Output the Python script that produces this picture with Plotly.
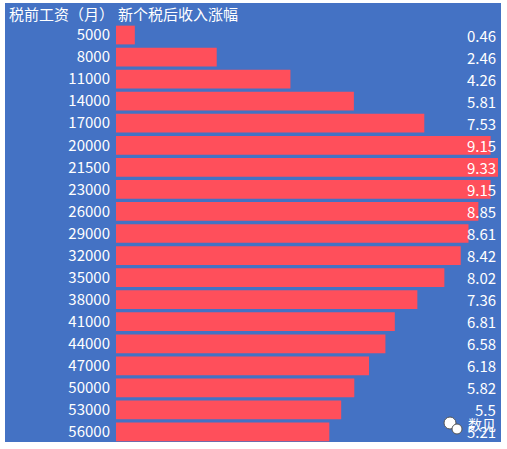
import plotly.graph_objects as go

# data
salaries = ["5000", "8000", "11000", "14000", "17000", "20000", "21500", "23000", "26000",
            "29000", "32000", "35000", "38000", "41000", "44000", "47000", "50000", "53000", "56000"]
increase = [0.46, 2.46, 4.26, 5.81, 7.53, 9.15, 9.33, 9.15, 8.85,
            8.61, 8.42, 8.02, 7.36, 6.81, 6.58, 6.18, 5.82, 5.5, 5.21]
header_left = "税前工资（月）"
header_right = "新个税后收入涨幅"
watermark = "数见"

blue = "#4472C4"
red = "#FF4F5B"
font_family = "Noto Sans CJK SC"

W, H = 507, 449
m_l, m_r, m_t, m_b = 116, 9, 24, 6
plot_w = W - m_l - m_r
plot_h = H - m_t - m_b


def px_x(px):
    return (px - m_l) / plot_w


def px_y(py):
    return (H - m_b - py) / plot_h


fig = go.Figure()
fig.add_trace(go.Bar(
    x=increase,
    y=salaries,
    orientation="h",
    marker=dict(color=red, line=dict(width=0)),
    hoverinfo="x+y",
    showlegend=False,
))

# blue panel behind everything
fig.add_shape(type="rect", xref="paper", yref="paper",
              x0=px_x(5), x1=px_x(501), y0=px_y(442), y1=px_y(3),
              fillcolor=blue, line=dict(width=0), layer="below")

# little chat-bubble logo next to the watermark
for cx, cy, r in [(450, 423, 6), (457, 429, 5)]:
    fig.add_shape(type="circle", xref="paper", yref="paper",
                  x0=px_x(cx - r), x1=px_x(cx + r), y0=px_y(cy + r), y1=px_y(cy - r),
                  fillcolor="white", line=dict(color="#555555", width=1), layer="above")

annotations = []
for i, v in enumerate(increase):
    annotations.append(dict(
        x=px_x(498), xref="paper", xanchor="right",
        y=i, yref="y", yanchor="middle",
        text=f"{v:g}", showarrow=False,
        font=dict(color="white", size=15, family=font_family),
    ))

annotations.append(dict(
    x=px_x(7), xref="paper", xanchor="left",
    y=px_y(14), yref="paper", yanchor="middle",
    text=header_left, showarrow=False,
    font=dict(color="white", size=15, family=font_family),
))
annotations.append(dict(
    x=px_x(116), xref="paper", xanchor="left",
    y=px_y(14), yref="paper", yanchor="middle",
    text=header_right, showarrow=False,
    font=dict(color="white", size=15, family=font_family),
))
annotations.append(dict(
    x=px_x(466), xref="paper", xanchor="left",
    y=px_y(424), yref="paper", yanchor="middle",
    text=watermark, showarrow=False,
    font=dict(color="white", size=14, family=font_family),
))

fig.update_layout(
    width=W, height=H,
    margin=dict(l=m_l, r=m_r, t=m_t, b=m_b),
    paper_bgcolor="white",
    plot_bgcolor="rgba(0,0,0,0)",
    bargap=0.15,
    annotations=annotations,
    font=dict(family=font_family),
)
fig.update_xaxes(range=[0, 9.33], visible=False, fixedrange=True)
fig.update_yaxes(
    type="category",
    range=[len(salaries) - 0.5, -0.5],
    showgrid=False, zeroline=False, showline=False,
    ticks="", ticklabelstandoff=5,
    tickfont=dict(color="white", size=15, family=font_family),
    fixedrange=True,
)

fig.write_html("out.html", config={"displayModeBar": False},
               post_script="document.body.style.margin='0';")
